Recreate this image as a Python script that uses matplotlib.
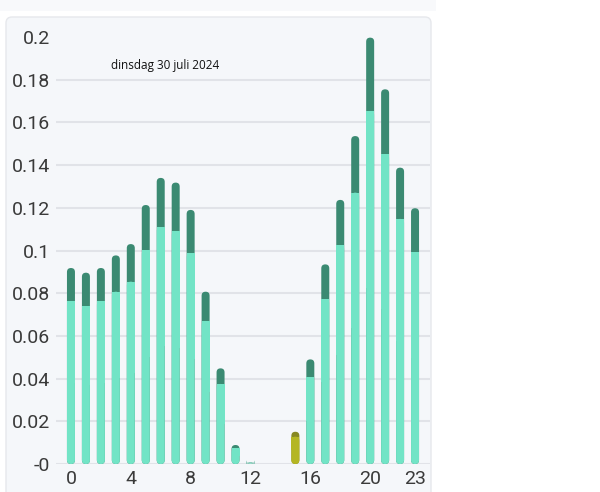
import matplotlib.pyplot as plt
from matplotlib.patches import FancyBboxPatch, Rectangle

hours = list(range(24))
# lower (light) part and total height of each stacked bar
light = [0.0763, 0.074, 0.0763, 0.0807, 0.0854, 0.1002, 0.111, 0.109, 0.0987, 0.067,
         0.0375, 0.0073, 0.0008, 0, 0, 0.0128, 0.0406, 0.0771, 0.1024, 0.1271,
         0.1653, 0.1451, 0.1148, 0.0991]
total = [0.0918, 0.0896, 0.0918, 0.0977, 0.103, 0.1213, 0.134, 0.1318, 0.119, 0.0807,
         0.0448, 0.0089, 0.0008, 0, 0, 0.0151, 0.049, 0.0935, 0.1237, 0.1536,
         0.1997, 0.1755, 0.1388, 0.1198]
olive_hours = [15]
title = "dinsdag 30 juli 2024"
xticks = [0, 4, 8, 12, 16, 20, 23]
yticks = [0, 0.02, 0.04, 0.06, 0.08, 0.1, 0.12, 0.14, 0.16, 0.18, 0.2]
ylabels = ["-0", "0.02", "0.04", "0.06", "0.08", "0.1", "0.12", "0.14", "0.16", "0.18", "0.2"]

c_light, c_dark = "#72E4C6", "#3B8A72"
o_light, o_dark = "#B4B623", "#878822"

fig = plt.figure(figsize=(6, 4.92), dpi=100)
fig.patch.set_facecolor("white")

# card background
bg = fig.add_axes([0, 0, 1, 1])
bg.set_xlim(0, 600)
bg.set_ylim(492, 0)
bg.axis("off")
bg.add_patch(Rectangle((0, 0), 436, 11, color="#F8F9FB", lw=0))
bg.add_patch(FancyBboxPatch((6, 17), 425, 490, boxstyle="round,pad=0,rounding_size=6",
                            fc="#F5F7FA", ec="#E6E8EC", lw=1))

ax = fig.add_axes([56 / 600, 1 - 464 / 492, 374 / 600, 427 / 492])
ax.set_xlim(-1.0, 24.0)
ax.set_ylim(0, 0.2)
ax.patch.set_alpha(0)
for s in ax.spines.values():
    s.set_visible(False)

# figure out data-per-pixel so rounded ends look round
x_per_px = 25.0 / 374
y_per_px = 0.2 / 427
aspect = y_per_px / x_per_px
w = 8 * x_per_px
r = 4 * x_per_px

for h in hours:
    if total[h] <= 0:
        continue
    cl, cd = (o_light, o_dark) if h in olive_hours else (c_light, c_dark)
    ax.add_patch(FancyBboxPatch((h - w / 2, 0), w, total[h],
                                boxstyle="round,pad=0,rounding_size=%f" % r,
                                mutation_aspect=aspect, fc=cd, ec="none", zorder=3))
    if light[h] > 0:
        col = "#9ADCCB" if total[h] < 0.002 else cl
        ax.add_patch(FancyBboxPatch((h - w / 2, 0), w, light[h],
                                    boxstyle="round,pad=0,rounding_size=%f" % r,
                                    mutation_aspect=aspect, fc=col, ec="none", zorder=4))
        if total[h] > light[h]:
            ax.add_patch(Rectangle((h - w / 2, light[h] / 2), w, light[h] / 2,
                                   fc=cl, ec="none", zorder=4))

ax.set_yticks(yticks)
ax.set_yticklabels(ylabels)
ax.set_xticks(xticks)
ax.tick_params(length=0, labelsize=14, labelcolor="#3A3A3A", pad=4)
for lab in ax.get_xticklabels() + ax.get_yticklabels():
    lab.set_fontfamily("Roboto")
ax.grid(axis="y", color="#E1E3E8", lw=1.5)
ax.gridlines = ax.get_ygridlines()
ax.get_ygridlines()[-1].set_visible(False)
ax.set_axisbelow(True)

fig.text(165 / 600, 1 - 65 / 492, title, ha="center", va="center",
         fontsize=8.5, family="Open Sans", color="#111111")

fig.savefig("out.png", dpi=100)
